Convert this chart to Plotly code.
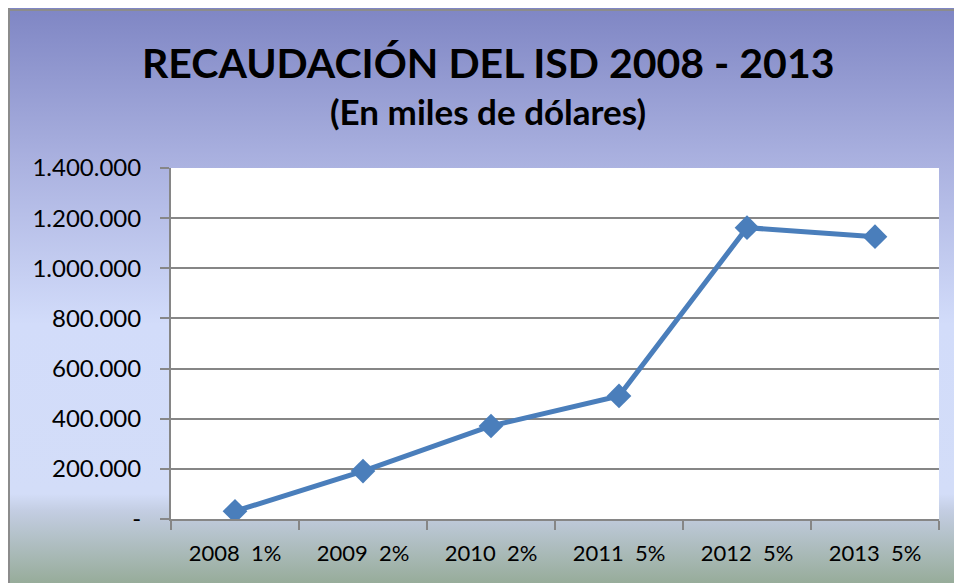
import base64
import plotly.graph_objects as go

# data
years = ["2008\u00a0\u00a01%", "2009\u00a0\u00a02%", "2010\u00a0\u00a02%",
         "2011\u00a0\u00a05%", "2012\u00a0\u00a05%", "2013\u00a0\u00a05%"]
recaudacion = [31000, 191000, 371000, 491000, 1162000, 1126000]
y_ticks = [0, 200000, 400000, 600000, 800000, 1000000, 1200000, 1400000]
y_tick_text = ["-", "200.000", "400.000", "600.000", "800.000",
               "1.000.000", "1.200.000", "1.400.000"]

W, H = 946, 575
L, R, T, B = 163, 15, 160, 64
pw, ph = W - L - R, H - T - B

# background gradient like the Excel chart area fill
svg = """<svg xmlns='http://www.w3.org/2000/svg' width='100' height='100' preserveAspectRatio='none'>
<defs><linearGradient id='g' x1='0' y1='0' x2='0' y2='1'>
<stop offset='0' stop-color='#7f86c4'/>
<stop offset='0.26' stop-color='#a9b0df'/>
<stop offset='0.55' stop-color='#d2dcfa'/>
<stop offset='0.845' stop-color='#d3ddf8'/>
<stop offset='0.875' stop-color='#c3cde2'/>
<stop offset='1' stop-color='#97ac9a'/>
</linearGradient></defs>
<rect width='100' height='100' fill='url(#g)'/></svg>"""
bg_uri = "data:image/svg+xml;base64," + base64.b64encode(svg.encode()).decode()

fig = go.Figure()
fig.add_trace(go.Scatter(
    x=years, y=recaudacion, mode="lines+markers",
    line=dict(color="#4a7ebb", width=5),
    marker=dict(symbol="diamond", size=19, color="#4a7ebb"),
    showlegend=False))

fig.add_layout_image(dict(
    source=bg_uri, xref="paper", yref="paper",
    x=-L / pw, y=1 + T / ph, sizex=W / pw, sizey=H / ph,
    sizing="stretch", xanchor="left", yanchor="top", layer="below"))

# white plot area + chart frame (left and top edges only are visible)
fig.add_shape(type="rect", xref="paper", yref="paper", layer="below",
              x0=0, x1=1, y0=0, y1=1, fillcolor="white", line_width=0)
frame = dict(color="#8c8c8c", width=2)
fig.add_shape(type="line", xref="paper", yref="paper",
              x0=-(L - 1) / pw, x1=-(L - 1) / pw, y0=-B / ph, y1=1 + T / ph, line=frame)
fig.add_shape(type="line", xref="paper", yref="paper",
              x0=-L / pw, x1=1 + R / pw, y0=1 + (T - 2) / ph, y1=1 + (T - 2) / ph, line=frame)

fig.add_annotation(text="<b>RECAUDACIÓN DEL ISD 2008 - 2013</b>",
                   xref="paper", yref="paper", x=0.413, y=(519 - 62) / 351,
                   yanchor="middle", showarrow=False,
                   font=dict(family="Lato", size=41, color="black"))
fig.add_annotation(text="<b>(En miles de dólares)</b>",
                   xref="paper", yref="paper", x=0.413, y=(519 - 111) / 351,
                   yanchor="middle", showarrow=False,
                   font=dict(family="Lato", size=35, color="black"))

fig.update_layout(
    width=W, height=H, margin=dict(l=L, r=R, t=T, b=B),
    paper_bgcolor="white", plot_bgcolor="rgba(0,0,0,0)",
    font=dict(family="Lato", color="black"),
)
fig.update_xaxes(
    type="category", tickson="boundaries", ticks="outside", ticklen=9,
    tickcolor="#868686", tickwidth=2, showline=True, linecolor="#868686", linewidth=2,
    showgrid=False, tickfont=dict(size=22), ticklabelstandoff=14,
    range=[-0.5, 5.5])
fig.update_yaxes(
    range=[0, 1400000], tickvals=y_ticks, ticktext=y_tick_text,
    ticks="outside", ticklen=9, tickcolor="#868686", tickwidth=2,
    showline=True, linecolor="#868686", linewidth=2,
    gridcolor="#868686", gridwidth=2, zeroline=False,
    tickfont=dict(size=24), ticklabelstandoff=14)

# the chart runs to the right and bottom window edges, like the screenshot
fig.write_html("out.html", post_script=(
    "document.body.style.margin='8px 0 0 8px';"
    "document.documentElement.style.overflow='hidden';"
    "document.body.style.overflow='hidden';"))
